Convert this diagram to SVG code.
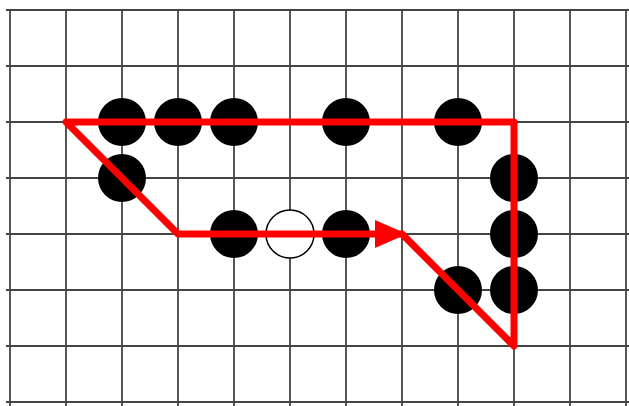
<svg xmlns="http://www.w3.org/2000/svg" width="629" height="406" viewBox="0 0 629 406">
<style>
.grid line{stroke:#444;stroke-width:1.8}
.b{fill:#000}
.w{fill:#fff;stroke:#000;stroke-width:1.5}
.route{fill:none;stroke:#f00;stroke-width:7;stroke-linejoin:round;stroke-linecap:round}
.head{fill:#f00}
</style>
<rect width="629" height="406" fill="#fff"/>
<g class="grid">
<line x1="6" y1="10" x2="629" y2="10"/><line x1="6" y1="66" x2="629" y2="66"/><line x1="6" y1="122" x2="629" y2="122"/><line x1="6" y1="178" x2="629" y2="178"/><line x1="6" y1="234" x2="629" y2="234"/><line x1="6" y1="290" x2="629" y2="290"/><line x1="6" y1="346" x2="629" y2="346"/><line x1="6" y1="402" x2="629" y2="402"/>
<line x1="10" y1="10" x2="10" y2="406"/><line x1="66" y1="10" x2="66" y2="406"/><line x1="122" y1="10" x2="122" y2="406"/><line x1="178" y1="10" x2="178" y2="406"/><line x1="234" y1="10" x2="234" y2="406"/><line x1="290" y1="10" x2="290" y2="406"/><line x1="346" y1="10" x2="346" y2="406"/><line x1="402" y1="10" x2="402" y2="406"/><line x1="458" y1="10" x2="458" y2="406"/><line x1="514" y1="10" x2="514" y2="406"/><line x1="570" y1="10" x2="570" y2="406"/><line x1="626" y1="10" x2="626" y2="406"/>
</g>
<g id="stones">
<g id="s1"><circle class="b" cx="122" cy="122" r="24"/></g>
<g id="s2"><circle class="b" cx="178" cy="122" r="24"/></g>
<g id="s3"><circle class="b" cx="234" cy="122" r="24"/></g>
<g id="s4"><circle class="b" cx="346" cy="122" r="24"/></g>
<g id="s5"><circle class="b" cx="458" cy="122" r="24"/></g>
<g id="s6"><circle class="b" cx="122" cy="178" r="24"/></g>
<g id="s7"><circle class="b" cx="234" cy="234" r="24"/></g>
<g id="s8"><circle class="w" cx="290" cy="234" r="24"/></g>
<g id="s9"><circle class="b" cx="346" cy="234" r="24"/></g>
<g id="s10"><circle class="b" cx="514" cy="178" r="24"/></g>
<g id="s11"><circle class="b" cx="514" cy="234" r="24"/></g>
<g id="s12"><circle class="b" cx="514" cy="290" r="24"/></g>
<g id="s13"><circle class="b" cx="458" cy="290" r="24"/></g>
</g>
<g id="connectors">
<path class="route" d="M402,234 L514,346 L514,122 L66,122 L178,234 L402,234"/>
<path class="head" d="M375,220 L407,234 L375,248 Z"/>
</g>
</svg>
